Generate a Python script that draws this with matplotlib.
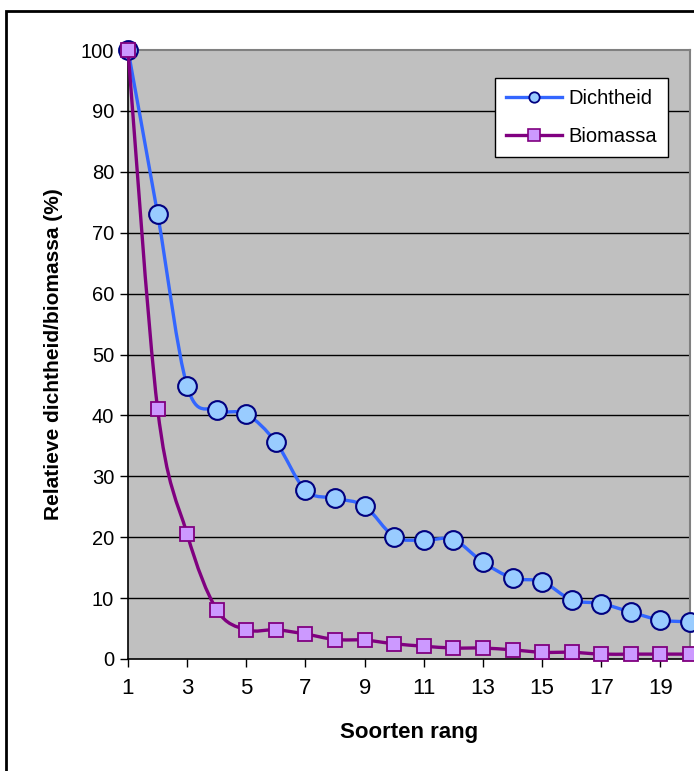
import numpy as np
import matplotlib
matplotlib.use("Agg")
import matplotlib.pyplot as plt
from matplotlib.path import Path
from matplotlib.patches import PathPatch, Rectangle
from matplotlib.lines import Line2D

plt.rcParams['font.family'] = ['Liberation Sans', 'DejaVu Sans']

rang = list(range(1, 21))
dichtheid = [100, 73.1, 44.8, 40.9, 40.2, 35.6, 27.7, 26.4, 25.1, 20.1,
             19.5, 19.6, 15.9, 13.3, 12.7, 9.7, 9.1, 7.7, 6.4, 6.1]
biomassa = [100, 41.1, 20.5, 8.1, 4.8, 4.8, 4.1, 3.2, 3.1, 2.5,
            2.1, 1.8, 1.8, 1.5, 1.1, 1.1, 0.8, 0.8, 0.8, 0.8]
xticks = [1, 3, 5, 7, 9, 11, 13, 15, 17, 19]


def smooth_path(x, y):
    # smoothed line like a spreadsheet chart: cubic bezier through each point
    p = np.column_stack([x, y]).astype(float)
    verts = [p[0]]
    codes = [Path.MOVETO]
    n = len(p)
    for i in range(n - 1):
        p0 = p[i - 1] if i > 0 else p[i]
        p3 = p[i + 2] if i + 2 < n else p[i + 1]
        c1 = p[i] + (p[i + 1] - p0) / 6.0
        c2 = p[i + 1] - (p3 - p[i]) / 6.0
        verts += [c1, c2, p[i + 1]]
        codes += [Path.CURVE4] * 3
    return Path(verts, codes)


fig = plt.figure(figsize=(6.94, 7.71), dpi=100)
ax = fig.add_axes([128 / 694, 112 / 771, 562 / 694, 609 / 771])
ax.set_facecolor('#C0C0C0')

ax.set_xlim(1, 20)
ax.set_ylim(0, 100)

for yy in range(10, 100, 10):
    ax.axhline(yy, color='black', lw=1.0, zorder=1)

blue = '#3366FF'
purple = '#800080'

# Dichtheid first, Biomassa on top
ax.add_patch(PathPatch(smooth_path(rang, dichtheid), fill=False, edgecolor=blue,
                       lw=2.4, zorder=3, clip_on=False))
ax.plot(rang, dichtheid, ls='none', marker='o', ms=13.5, mfc='#99CCFF', mec='#000080',
        mew=1.5, zorder=4, clip_on=False)
ax.add_patch(PathPatch(smooth_path(rang, biomassa), fill=False, edgecolor=purple,
                       lw=2.4, zorder=5, clip_on=False))
ax.plot(rang, biomassa, ls='none', marker='s', ms=10, mfc='#CC99FF', mec=purple,
        mew=1.3, zorder=6, clip_on=False)

ax.set_xticks(xticks)
ax.set_yticks(range(0, 101, 10))
ax.tick_params(axis='both', direction='out', length=6, width=1, colors='black', pad=4)
ax.tick_params(axis='y', labelsize=14.5)
ax.tick_params(axis='x', labelsize=16, pad=8)

for s in ['left', 'bottom']:
    ax.spines[s].set_color('black')
    ax.spines[s].set_linewidth(1.2)
for s in ['top', 'right']:
    ax.spines[s].set_color('#808080')
    ax.spines[s].set_linewidth(1.5)

ax.set_xlabel('Soorten rang', fontsize=16, fontweight='bold', labelpad=16)
ax.set_ylabel('Relatieve dichtheid/biomassa (%)', fontsize=15, fontweight='bold', labelpad=13)

handles = [
    Line2D([], [], color=blue, lw=2.4, marker='o', ms=7.5, mfc='#99CCFF', mec='#000080', mew=1.3),
    Line2D([], [], color=purple, lw=2.4, marker='s', ms=8, mfc='#CC99FF', mec=purple, mew=1.2),
]
leg = ax.legend(handles, ['Dichtheid', 'Biomassa'], loc='upper right',
                bbox_to_anchor=(0.961, 0.954), fontsize=14.5, fancybox=False,
                framealpha=1, edgecolor='black', handlelength=2.8,
                borderpad=0.55, labelspacing=0.95, handletextpad=0.3, borderaxespad=0)
leg.get_frame().set_linewidth(1.0)
leg.set_zorder(10)

# outer chart frame
fig.patches.append(Rectangle((6 / 694, -0.05), 1.1, (771 - 11) / 771 + 0.05,
                             transform=fig.transFigure, fill=False,
                             edgecolor='black', lw=2.0, zorder=0))

fig.savefig('out.png', dpi=100)
